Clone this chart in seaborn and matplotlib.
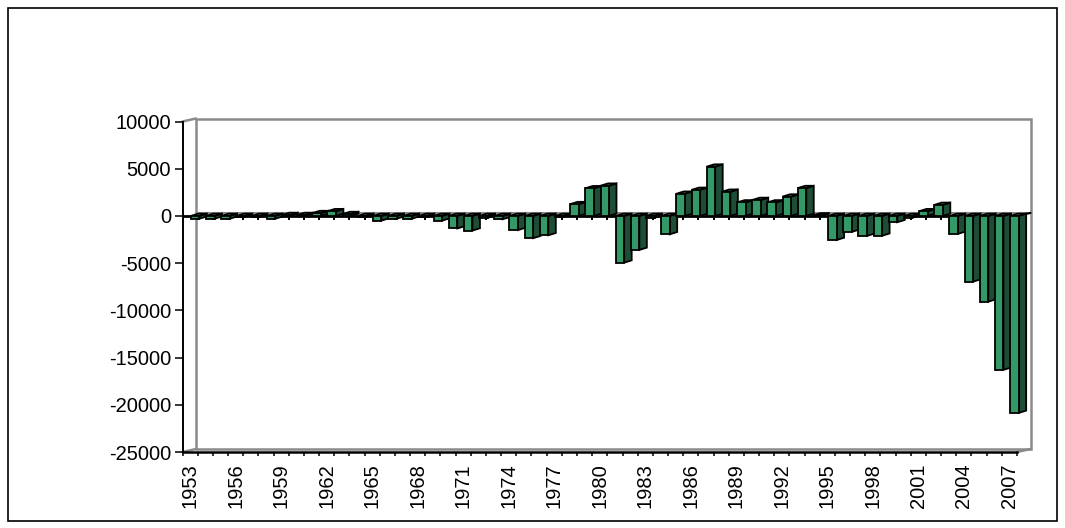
import matplotlib
matplotlib.use('Agg')
import matplotlib.pyplot as plt
import seaborn as sns
import numpy as np
import pandas as pd
from matplotlib.patches import Polygon, Rectangle
from matplotlib.lines import Line2D

# ---- data ----
years = list(range(1953, 2008))
values = [
    -300, -300, -300, -100, -100, -300, 100, 100, 300, 500,      # 1953-1962
    200, -100, -500, -300, -300, -100, -500, -1330, -1550, -200,  # 1963-1972
    -350, -1500, -2360, -2050, -100, 1250, 2930, 3200, -4950, -3600,  # 1973-1982
    -200, -1950, 2350, 2760, 5220, 2560, 1430, 1690, 1430, 2050,  # 1983-1992
    2950, 50, -2550, -1690, -2120, -2100, -670, -200, 500, 1170,  # 1993-2002
    -1900, -6960, -9080, -16300, -20860,                          # 2003-2007
]
y_ticks = [10000, 5000, 0, -5000, -10000, -15000, -20000, -25000]
label_years = years[::3]

FRONT = '#339966'
SIDE = '#1d4d34'
WALL = '#8a8a8a'

sns.set_theme(style='white')
plt.rcParams['font.family'] = ['Liberation Sans', 'DejaVu Sans']

W, H = 1065, 528
fig = plt.figure(figsize=(W / 100, H / 100), dpi=100)
fig.patch.set_facecolor('white')

x0, x1 = 182.5, 1017.0
ytop, ybot = 121.5, 452.0
ax = fig.add_axes([x0 / W, 1 - ybot / H, (x1 - x0) / W, (ybot - ytop) / H])
ax.set_facecolor('none')

n = len(years)
ymin, ymax = y_ticks[-1], y_ticks[0]
cat_px = (x1 - x0) / n
unit_px = (ybot - ytop) / (ymax - ymin)

df = pd.DataFrame({'year': [str(y) for y in years], 'value': values})
sns.barplot(data=df, x='year', y='value', color=FRONT, saturation=1,
            width=0.56, edgecolor='black', linewidth=1.3, ax=ax, zorder=3)

ax.set_xlim(-0.5, n - 0.5)
ax.set_ylim(ymin, ymax)

# 3D styling offsets (in data units)
shift = 5.0 / cat_px
dx = 7.5 / cat_px
dy = 2.3 / unit_px
dxw = 13.5 / cat_px
dyw = 3.0 / unit_px

for p in list(ax.patches):
    p.set_x(p.get_x() + shift)
    p.set_clip_on(False)
    xl = p.get_x()
    xr = xl + p.get_width()
    v = p.get_y() + p.get_height() if p.get_height() >= 0 else p.get_y()
    v = p.get_height() if p.get_y() == 0 else p.get_y()
    side = Polygon([(xr, 0), (xr, v), (xr + dx, v + dy), (xr + dx, dy)],
                   closed=True, facecolor=SIDE, edgecolor='black',
                   linewidth=1.3, zorder=2, clip_on=False)
    ax.add_patch(side)
    top_y = max(v, 0)
    top = Polygon([(xl, top_y), (xr, top_y), (xr + dx, top_y + dy), (xl + dx, top_y + dy)],
                  closed=True, facecolor=FRONT, edgecolor='black',
                  linewidth=1.3, zorder=2, clip_on=False)
    ax.add_patch(top)

# back wall
ax.add_patch(Rectangle((-0.5 + dxw, ymin + dyw), n, ymax - ymin, fill=False,
                       edgecolor=WALL, linewidth=1.8, zorder=0.5, clip_on=False))
for (xa, ya) in [(-0.5, ymax), (n - 0.5, ymin), (-0.5, ymin)]:
    ax.add_line(Line2D([xa, xa + dxw], [ya, ya + dyw], color=WALL, lw=1.8,
                       zorder=0.5, clip_on=False))
# floor at zero
ax.add_line(Line2D([-0.5 + dxw, n - 0.5 + dxw], [dyw, dyw], color=WALL, lw=1.5,
                   zorder=1, clip_on=False))
ax.add_line(Line2D([n - 0.5, n - 0.5 + dxw], [0, dyw], color='black', lw=1.5,
                   zorder=1, clip_on=False))
ax.add_line(Line2D([-0.5, n - 0.5], [0, 0], color='black', lw=2.0,
                   zorder=1.5, clip_on=False))
bounds = np.arange(-0.5, n, 1.0)
ax.vlines(bounds, 0, -4.5 / unit_px, color='black', lw=1.4, zorder=1.5)

# axes styling
for s in ['top', 'right']:
    ax.spines[s].set_visible(False)
ax.spines['left'].set_color('black')
ax.spines['left'].set_linewidth(1.4)
ax.spines['bottom'].set_color('black')
ax.spines['bottom'].set_linewidth(1.8)
ax.spines['left'].set_zorder(5)

ax.set_yticks(y_ticks)
ax.set_yticklabels([str(t) for t in y_ticks])
ax.tick_params(axis='y', direction='out', length=5.8, width=1.1, pad=2.5,
               labelsize=14.5, colors='black', left=True)

ax.set_xticks(range(0, n, 3))
ax.set_xticklabels([str(y) for y in label_years], rotation=90)
ax.set_xticks(bounds, minor=True)
ax.tick_params(axis='x', which='major', length=0, pad=8, labelsize=14.5,
               colors='black', bottom=True)
ax.tick_params(axis='x', which='minor', direction='out', length=3.2, width=1.1,
               color='black', bottom=True)
ax.set_xlabel('')
ax.set_ylabel('')
ax.grid(False)

# outer border
fig.patches.append(Rectangle((8 / W, 7 / H), (1057 - 8) / W, (521 - 8) / H,
                             transform=fig.transFigure, fill=False,
                             edgecolor='black', linewidth=1.2))

fig.savefig('out.png', dpi=100)
